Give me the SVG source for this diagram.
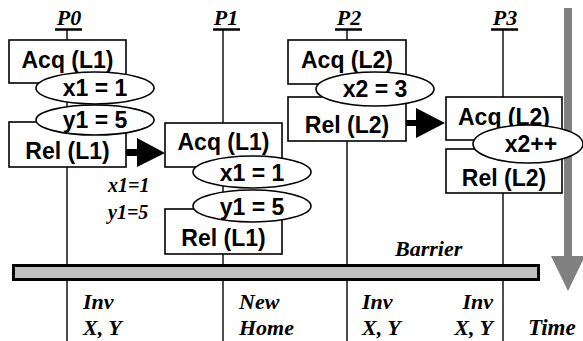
<svg xmlns="http://www.w3.org/2000/svg" width="583" height="341" viewBox="0 0 583 341">
<style>
.box{fill:#fff;stroke:#000;stroke-width:1.6}
.ell{fill:#fff;stroke:#000;stroke-width:1.6}
.ln{stroke:#000;stroke-width:1.4;fill:none}
.ul{stroke:#000;stroke-width:2.5}
.t{font-family:"Liberation Sans",Arial,sans-serif;font-weight:bold;font-size:23px;text-anchor:middle;fill:#000}
.lab{font-family:"Liberation Serif","Times New Roman",serif;font-weight:bold;font-style:italic;font-size:22px;fill:#000}
.note{font-family:"Liberation Serif","Times New Roman",serif;font-weight:bold;font-style:italic;font-size:20px;fill:#000}
</style>
<rect width="583" height="341" fill="#fff"/>
<g id="timeline">
<rect x="564" y="8" width="8" height="249" fill="#808080"/>
<polygon points="551,256 585,256 568,291" fill="#808080"/>
</g>
<g id="connectors">
<line class="ln" x1="67" y1="29" x2="67" y2="341"/>
<line class="ln" x1="223" y1="29" x2="223" y2="341"/>
<line class="ln" x1="347" y1="29" x2="347" y2="341"/>
<line class="ln" x1="503" y1="29" x2="503" y2="341"/>
<rect x="126" y="149" width="12" height="7" fill="#000"/>
<polygon points="137,138 165,153 137,167" fill="#000"/>
<rect x="406" y="120" width="11" height="6" fill="#000"/>
<polygon points="416,108 445,123 416,138" fill="#000"/>
</g>
<g id="P0">
<text class="lab" x="69" y="25" text-anchor="middle">P0</text>
<line class="ul" x1="55" y1="29.5" x2="82" y2="29.5"/>
<rect class="box" x="9" y="40" width="117" height="43"/>
<rect class="box" x="9" y="122" width="117" height="45"/>
<text class="t" x="67.5" y="68">Acq (L1)</text>
<text class="t" x="67.5" y="159">Rel (L1)</text>
<ellipse class="ell" cx="95" cy="88" rx="59" ry="16"/>
<text class="t" x="95" y="96">x1 = 1</text>
<ellipse class="ell" cx="95" cy="120" rx="59" ry="15"/>
<text class="t" x="95" y="128">y1 = 5</text>
</g>
<g id="P1">
<text class="lab" x="226" y="25" text-anchor="middle">P1</text>
<line class="ul" x1="213" y1="29.5" x2="240" y2="29.5"/>
<rect class="box" x="165" y="123" width="117" height="44"/>
<rect class="box" x="165" y="209" width="117" height="45"/>
<text class="t" x="223.5" y="150">Acq (L1)</text>
<text class="t" x="223.5" y="246">Rel (L1)</text>
<ellipse class="ell" cx="252" cy="172" rx="59" ry="16"/>
<text class="t" x="252" y="181">x1 = 1</text>
<ellipse class="ell" cx="252" cy="206" rx="59" ry="16"/>
<text class="t" x="252" y="215">y1 = 5</text>
<text class="note" x="108" y="192">x1=1</text>
<text class="note" x="108" y="219">y1=5</text>
</g>
<g id="P2">
<text class="lab" x="349" y="25" text-anchor="middle">P2</text>
<line class="ul" x1="335" y1="29.5" x2="362" y2="29.5"/>
<rect class="box" x="288" y="40" width="118" height="44"/>
<rect class="box" x="288" y="97" width="118" height="44"/>
<text class="t" x="347" y="68">Acq (L2)</text>
<text class="t" x="347" y="133">Rel (L2)</text>
<ellipse class="ell" cx="375" cy="89" rx="59" ry="17"/>
<text class="t" x="375" y="97">x2 = 3</text>
</g>
<g id="P3">
<text class="lab" x="505" y="25" text-anchor="middle">P3</text>
<line class="ul" x1="491" y1="29.5" x2="518" y2="29.5"/>
<rect class="box" x="446" y="97" width="116" height="43"/>
<rect class="box" x="446" y="149" width="116" height="44"/>
<text class="t" x="504" y="125">Acq (L2)</text>
<text class="t" x="504" y="186">Rel (L2)</text>
<ellipse class="ell" cx="528" cy="144" rx="55" ry="19"/>
<text class="t" x="531" y="152">x2++</text>
</g>
<g id="barrier">
<rect x="13.5" y="265.5" width="525" height="14" fill="#c0c0c0" stroke="#000" stroke-width="3"/>
<text class="lab" x="395" y="256">Barrier</text>
</g>
<g id="labels">
<text class="lab" x="83" y="309">Inv</text>
<text class="lab" x="83" y="335">X, Y</text>
<text class="lab" x="239" y="309">New</text>
<text class="lab" x="239" y="335">Home</text>
<text class="lab" x="362" y="309">Inv</text>
<text class="lab" x="362" y="335">X, Y</text>
<text class="lab" x="493" y="309" text-anchor="end">Inv</text>
<text class="lab" x="493" y="335" text-anchor="end">X, Y</text>
<text class="lab" x="528" y="335" style="font-size:23px">Time</text>
</g>
</svg>
